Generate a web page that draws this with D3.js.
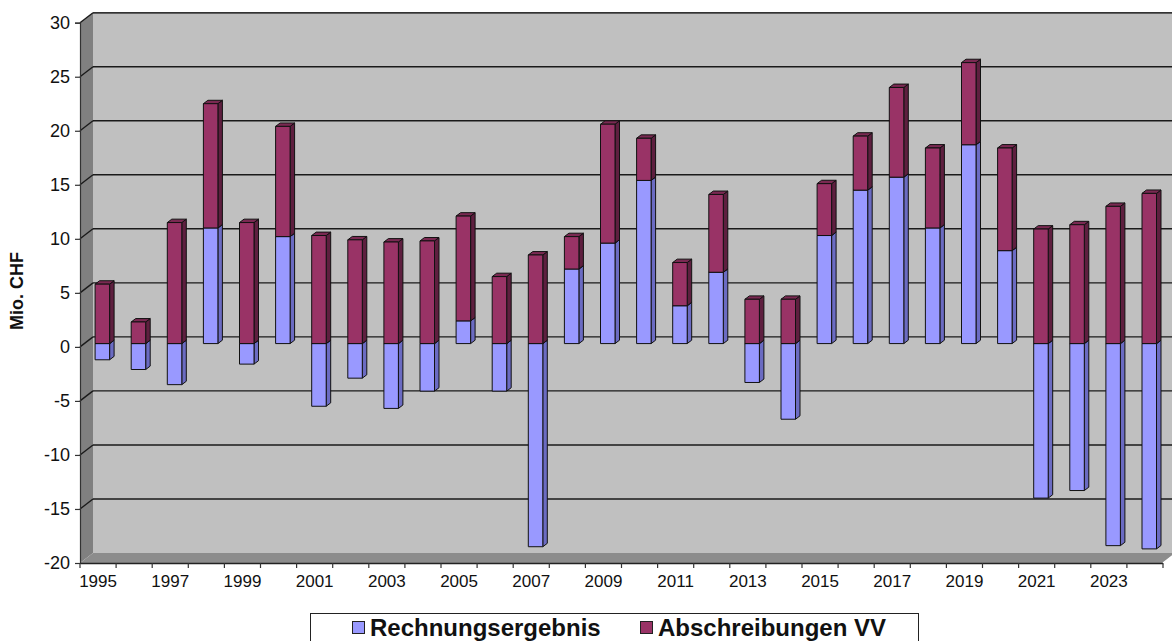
<!DOCTYPE html>
<html>
<head>
<meta charset="utf-8">
<script src="https://cdn.jsdelivr.net/npm/d3@7"></script>
<style>
  html, body { margin: 0; padding: 0; background: #fff; }
  svg { display: block; font-family: "Liberation Sans", Arial, sans-serif; }
</style>
</head>
<body>
<svg id="chart" width="1172" height="641"></svg>
<script>
// Years on the category axis
const years = d3.range(1995, 2025);

// Rechnungsergebnis (Mio. CHF)
const rechnungsergebnis = [
  -1.5, -2.4, -3.8, 10.7, -1.9, 9.9, -5.8, -3.2, -6.0, -4.4,
  2.1, -4.4, -18.8, 6.9, 9.3, 15.1, 3.5, 6.6, -3.6, -7.0,
  10.0, 14.2, 15.4, 10.7, 18.4, 8.6, -14.3, -13.6, -18.7, -19.0
];

// Abschreibungen Verwaltungsvermögen (Mio. CHF)
const abschreibungen = [
  5.5, 2.0, 11.2, 11.5, 11.2, 10.2, 10.0, 9.6, 9.4, 9.5,
  9.7, 6.2, 8.2, 3.0, 11.0, 3.9, 4.0, 7.2, 4.1, 4.1,
  4.8, 5.0, 8.3, 7.4, 7.6, 9.5, 10.6, 11.0, 12.7, 13.9
];

const yTicks = [-20, -15, -10, -5, 0, 5, 10, 15, 20, 25, 30];
const xTickLabels = years.filter(y => (y - 1995) % 2 === 0);

const seriesNames = ["Rechnungsergebnis", "Abschreibungen VV"];
const seriesColors = {
  front: ["#9999ff", "#993366"],
  side:  ["#6b6bc2", "#5e1f3f"],
  top:   ["#8080e0", "#7a2952"]
};

const svg = d3.select("#chart");

// Plot geometry: front plane of the 3D box and its depth offset
const left = 80, right = 1163;
const y = d3.scaleLinear().domain([-20, 30]).range([563, 22.7]);
const x = d3.scaleBand().domain(years).range([left, right]);
const depth = { dx: 13, dy: -10 };

// Bars sit in the middle third of the depth
const barW = 14.5;
const barFront = { dx: 4.3, dy: -3.3 };
const barDepth = { dx: 4.5, dy: -3.4 };

const g = svg.append("g");

// Back wall
g.append("rect")
  .attr("x", left + depth.dx)
  .attr("y", y(30) + depth.dy)
  .attr("width", 1200 - (left + depth.dx))
  .attr("height", y(-20) - y(30))
  .attr("fill", "#c0c0c0");

// Side wall
g.append("polygon")
  .attr("points", [
    [left, y(30)], [left + depth.dx, y(30) + depth.dy],
    [left + depth.dx, y(-20) + depth.dy], [left, y(-20)]
  ].map(p => p.join(",")).join(" "))
  .attr("fill", "#808080");

// Floor
g.append("polygon")
  .attr("points", [
    [left, y(-20)], [left + depth.dx, y(-20) + depth.dy],
    [right + depth.dx, y(-20) + depth.dy], [right, y(-20)]
  ].map(p => p.join(",")).join(" "))
  .attr("fill", "#8c8c8c");

// Gridlines on the back wall and the side wall
const grid = g.append("g").attr("stroke", "#1a1a1a").attr("stroke-width", 1.4).attr("fill", "none");
yTicks.filter(t => t > -20).forEach(t => {
  grid.append("line")
    .attr("x1", left + depth.dx).attr("x2", 1200)
    .attr("y1", y(t) + depth.dy).attr("y2", y(t) + depth.dy);
  grid.append("line")
    .attr("x1", left).attr("x2", left + depth.dx)
    .attr("y1", y(t)).attr("y2", y(t) + depth.dy);
});

// Value axis (plain hyphen for negatives)
const yAxis = d3.axisLeft(y).tickValues(yTicks).tickSize(5).tickPadding(5)
  .tickFormat(d => String(d));
const yAxisG = g.append("g").attr("transform", `translate(${left},0)`).call(yAxis);
yAxisG.select(".domain").attr("stroke", "#333").attr("stroke-width", 1.2);
yAxisG.selectAll(".tick line").attr("stroke", "#333").attr("stroke-width", 1.2);
yAxisG.selectAll(".tick text")
  .attr("font-size", 18)
  .attr("font-family", "'Liberation Sans', Arial, sans-serif")
  .attr("fill", "#111");

// Category axis
const xAxis = d3.axisBottom(x).tickSize(0).tickFormat(d => xTickLabels.includes(d) ? d : "");
const xAxisG = g.append("g").attr("transform", `translate(0,${y(-20)})`).call(xAxis);
xAxisG.select(".domain").attr("stroke", "#222").attr("stroke-width", 1.4);
xAxisG.selectAll(".tick text")
  .attr("font-size", 17)
  .attr("font-family", "'Liberation Sans', Arial, sans-serif")
  .attr("fill", "#111")
  .attr("dy", "1.25em");
// Tick marks between categories
g.append("g").selectAll("line")
  .data(years.concat([null]))
  .join("line")
  .attr("x1", (d, i) => left + i * x.bandwidth())
  .attr("x2", (d, i) => left + i * x.bandwidth())
  .attr("y1", y(-20)).attr("y2", y(-20) + 5)
  .attr("stroke", "#333").attr("stroke-width", 1.2);
// Right edge of the floor
g.append("line")
  .attr("x1", right).attr("y1", y(-20))
  .attr("x2", right + depth.dx).attr("y2", y(-20) + depth.dy)
  .attr("stroke", "#fff").attr("stroke-width", 1.5);

// Top edge of the box
g.append("line")
  .attr("x1", left + depth.dx).attr("x2", 1200)
  .attr("y1", y(30) + depth.dy).attr("y2", y(30) + depth.dy)
  .attr("stroke", "#333").attr("stroke-width", 1.2);

// Stacked 3D columns
const segs = [];
years.forEach((yr, i) => {
  let posBase = 0, negBase = 0;
  [rechnungsergebnis[i], abschreibungen[i]].forEach((v, s) => {
    let v0, v1;
    if (v >= 0) { v0 = posBase; v1 = posBase + v; posBase = v1; }
    else { v0 = negBase + v; v1 = negBase; negBase = v0; }
    segs.push({ yr, s, v0, v1 });
  });
});

const bars = g.append("g").attr("stroke", "#111").attr("stroke-width", 1).attr("stroke-linejoin", "round");
segs.forEach(d => {
  const fx = x(d.yr) + (x.bandwidth() - barW) / 2 + barFront.dx;
  const yTop = y(d.v1) + barFront.dy;
  const yBot = y(d.v0) + barFront.dy;
  const pts = a => a.map(p => p.join(",")).join(" ");
  // side face
  bars.append("polygon")
    .attr("points", pts([
      [fx + barW, yTop], [fx + barW + barDepth.dx, yTop + barDepth.dy],
      [fx + barW + barDepth.dx, yBot + barDepth.dy], [fx + barW, yBot]
    ]))
    .attr("fill", seriesColors.side[d.s]);
  // top face
  bars.append("polygon")
    .attr("points", pts([
      [fx, yTop], [fx + barDepth.dx, yTop + barDepth.dy],
      [fx + barW + barDepth.dx, yTop + barDepth.dy], [fx + barW, yTop]
    ]))
    .attr("fill", seriesColors.top[d.s]);
  // front face
  bars.append("rect")
    .attr("x", fx).attr("y", yTop)
    .attr("width", barW).attr("height", yBot - yTop)
    .attr("fill", seriesColors.front[d.s]);
});

// Axis title
svg.append("text")
  .attr("transform", `translate(23,291) rotate(-90)`)
  .attr("text-anchor", "middle")
  .attr("font-size", 18)
  .attr("font-weight", "bold")
  .attr("fill", "#111")
  .text("Mio. CHF");

// Legend
const legend = svg.append("g");
legend.append("rect")
  .attr("x", 310.5).attr("y", 613.5)
  .attr("width", 608).attr("height", 40)
  .attr("fill", "#fff").attr("stroke", "#222").attr("stroke-width", 1);
const legendX = [352, 640];
seriesNames.forEach((name, s) => {
  legend.append("rect")
    .attr("x", legendX[s] + 0.5).attr("y", 621.5)
    .attr("width", 12).attr("height", 12)
    .attr("fill", seriesColors.front[s]).attr("stroke", "#222").attr("stroke-width", 1);
  legend.append("text")
    .attr("x", legendX[s] + 18).attr("y", 636)
    .attr("font-size", 24)
    .attr("font-weight", "bold")
    .attr("fill", "#111")
    .text(name);
});
</script>
</body>
</html>
